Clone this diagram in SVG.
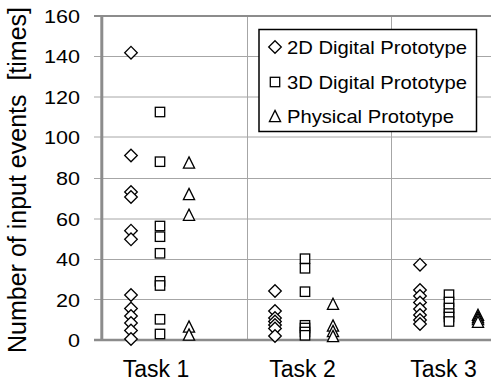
<svg xmlns="http://www.w3.org/2000/svg" xmlns:xlink="http://www.w3.org/1999/xlink" width="491" height="385" viewBox="0 0 491 385">
<style>
.grid{stroke:#a6a6a6;stroke-width:1;fill:none}
.axis{stroke:#8c8c8c;fill:none}
.mk{fill:#fff;stroke:#000;stroke-width:1.3}
.tick{font-family:"Liberation Sans",Arial,sans-serif;font-size:19px;fill:#000;text-anchor:end}
.cat{font-family:"Liberation Sans",Arial,sans-serif;font-size:23px;fill:#000;text-anchor:middle}
.leg{font-family:"Liberation Sans",Arial,sans-serif;font-size:19px;fill:#000}
</style>
<defs>
<path id="dia" class="mk" d="M0,-6.3 L6.3,0 L0,6.3 L-6.3,0Z"/>
<rect id="sq" class="mk" x="-4.7" y="-4.7" width="9.4" height="9.4"/>
<path id="tri" class="mk" d="M0,-5.6 L5.6,5.6 L-5.6,5.6Z"/>
</defs>
<rect width="491" height="385" fill="#fff"/>
<g id="grid">
<line class="grid" x1="94" y1="299.5" x2="491" y2="299.5"/>
<line class="grid" x1="94" y1="259.5" x2="491" y2="259.5"/>
<line class="grid" x1="94" y1="219" x2="491" y2="219"/>
<line class="grid" x1="94" y1="178.5" x2="491" y2="178.5"/>
<line class="grid" x1="94" y1="137" x2="491" y2="137"/>
<line class="grid" x1="94" y1="97" x2="491" y2="97"/>
<line class="grid" x1="94" y1="56.5" x2="491" y2="56.5"/>
<line class="grid" x1="247.5" y1="16" x2="247.5" y2="340"/>
<line class="grid" x1="391.5" y1="16" x2="391.5" y2="340"/>
<line class="axis" x1="94" y1="16" x2="491" y2="16" stroke-width="2"/>
<line class="axis" x1="94" y1="340" x2="491" y2="340" stroke-width="2.5"/>
<line class="axis" x1="101.8" y1="15" x2="101.8" y2="341" stroke-width="3"/>
</g>
<g id="yticks">
<text class="tick" x="80" y="22.5" textLength="36" lengthAdjust="spacingAndGlyphs">160</text>
<text class="tick" x="80" y="63" textLength="36" lengthAdjust="spacingAndGlyphs">140</text>
<text class="tick" x="80" y="103.5" textLength="36" lengthAdjust="spacingAndGlyphs">120</text>
<text class="tick" x="80" y="143.5" textLength="36" lengthAdjust="spacingAndGlyphs">100</text>
<text class="tick" x="80" y="185" textLength="24" lengthAdjust="spacingAndGlyphs">80</text>
<text class="tick" x="80" y="225.5" textLength="24" lengthAdjust="spacingAndGlyphs">60</text>
<text class="tick" x="80" y="266" textLength="24" lengthAdjust="spacingAndGlyphs">40</text>
<text class="tick" x="80" y="306.5" textLength="24" lengthAdjust="spacingAndGlyphs">20</text>
<text class="tick" x="80" y="347" textLength="12" lengthAdjust="spacingAndGlyphs">0</text>
</g>
<g id="ytitle">
<text font-family="'Liberation Sans',Arial,sans-serif" font-size="25" text-anchor="middle" transform="translate(25.5,180) rotate(-90)" xml:space="preserve">Number of input events  [times]</text>
</g>
<g id="xlabels">
<text class="cat" x="156" y="377">Task 1</text>
<text class="cat" x="302.5" y="377">Task 2</text>
<text class="cat" x="443.5" y="377">Task 3</text>
</g>
<g id="task1-2d">
<use xlink:href="#dia" x="131" y="52.7"/>
<use xlink:href="#dia" x="131" y="155.5"/>
<use xlink:href="#dia" x="131" y="192"/>
<use xlink:href="#dia" x="131" y="197"/>
<use xlink:href="#dia" x="131" y="230.7"/>
<use xlink:href="#dia" x="131" y="239.3"/>
<use xlink:href="#dia" x="131" y="295"/>
<use xlink:href="#dia" x="131" y="308.5"/>
<use xlink:href="#dia" x="131" y="316"/>
<use xlink:href="#dia" x="131" y="323"/>
<use xlink:href="#dia" x="131" y="330.5"/>
<use xlink:href="#dia" x="131" y="339"/>
</g>
<g id="task1-3d">
<use xlink:href="#sq" x="160" y="112"/>
<use xlink:href="#sq" x="160" y="161.7"/>
<use xlink:href="#sq" x="160" y="226"/>
<use xlink:href="#sq" x="160" y="236.7"/>
<use xlink:href="#sq" x="160" y="253.3"/>
<use xlink:href="#sq" x="160" y="281.3"/>
<use xlink:href="#sq" x="160" y="285.5"/>
<use xlink:href="#sq" x="160" y="319.3"/>
<use xlink:href="#sq" x="160" y="334"/>
</g>
<g id="task1-phys">
<use xlink:href="#tri" x="189" y="162.5"/>
<use xlink:href="#tri" x="189" y="194"/>
<use xlink:href="#tri" x="189" y="214.7"/>
<use xlink:href="#tri" x="189" y="326.5"/>
<use xlink:href="#tri" x="189" y="334.5"/>
</g>
<g id="task2-2d">
<use xlink:href="#dia" x="275" y="291"/>
<use xlink:href="#dia" x="275" y="311"/>
<use xlink:href="#dia" x="275" y="318"/>
<use xlink:href="#dia" x="275" y="321.5"/>
<use xlink:href="#dia" x="275" y="325"/>
<use xlink:href="#dia" x="275" y="328.5"/>
<use xlink:href="#dia" x="275" y="336"/>
</g>
<g id="task2-3d">
<use xlink:href="#sq" x="305" y="258.7"/>
<use xlink:href="#sq" x="305" y="268.3"/>
<use xlink:href="#sq" x="305" y="291.7"/>
<use xlink:href="#sq" x="305" y="325.3"/>
<use xlink:href="#sq" x="305" y="328"/>
<use xlink:href="#sq" x="305" y="332"/>
<use xlink:href="#sq" x="305" y="335.3"/>
</g>
<g id="task2-phys">
<use xlink:href="#tri" x="333" y="303.8"/>
<use xlink:href="#tri" x="333" y="325.5"/>
<use xlink:href="#tri" x="333" y="331"/>
<use xlink:href="#tri" x="333" y="336"/>
</g>
<g id="task3-2d">
<use xlink:href="#dia" x="420" y="264.7"/>
<use xlink:href="#dia" x="420" y="290"/>
<use xlink:href="#dia" x="420" y="296"/>
<use xlink:href="#dia" x="420" y="302.5"/>
<use xlink:href="#dia" x="420" y="309"/>
<use xlink:href="#dia" x="420" y="315"/>
<use xlink:href="#dia" x="420" y="320"/>
<use xlink:href="#dia" x="420" y="324"/>
</g>
<g id="task3-3d">
<use xlink:href="#sq" x="449" y="294.7"/>
<use xlink:href="#sq" x="449" y="302"/>
<use xlink:href="#sq" x="449" y="308"/>
<use xlink:href="#sq" x="449" y="313.5"/>
<use xlink:href="#sq" x="449" y="317"/>
<use xlink:href="#sq" x="449" y="321.5"/>
</g>
<g id="task3-phys">
<use xlink:href="#tri" x="478" y="314.8"/>
<use xlink:href="#tri" x="478" y="317"/>
<use xlink:href="#tri" x="478" y="319"/>
<use xlink:href="#tri" x="478" y="321.8"/>
</g>
<g id="legend">
<rect x="259" y="29.5" width="217.5" height="102" fill="#fff" stroke="#000" stroke-width="1.5"/>
<use xlink:href="#dia" x="275" y="47"/>
<use xlink:href="#sq" x="275" y="82"/>
<use xlink:href="#tri" x="275" y="116"/>
<text class="leg" x="287" y="54" textLength="180" lengthAdjust="spacingAndGlyphs">2D Digital Prototype</text>
<text class="leg" x="287" y="89" textLength="180" lengthAdjust="spacingAndGlyphs">3D Digital Prototype</text>
<text class="leg" x="287" y="123" textLength="167" lengthAdjust="spacingAndGlyphs">Physical Prototype</text>
</g>
</svg>
